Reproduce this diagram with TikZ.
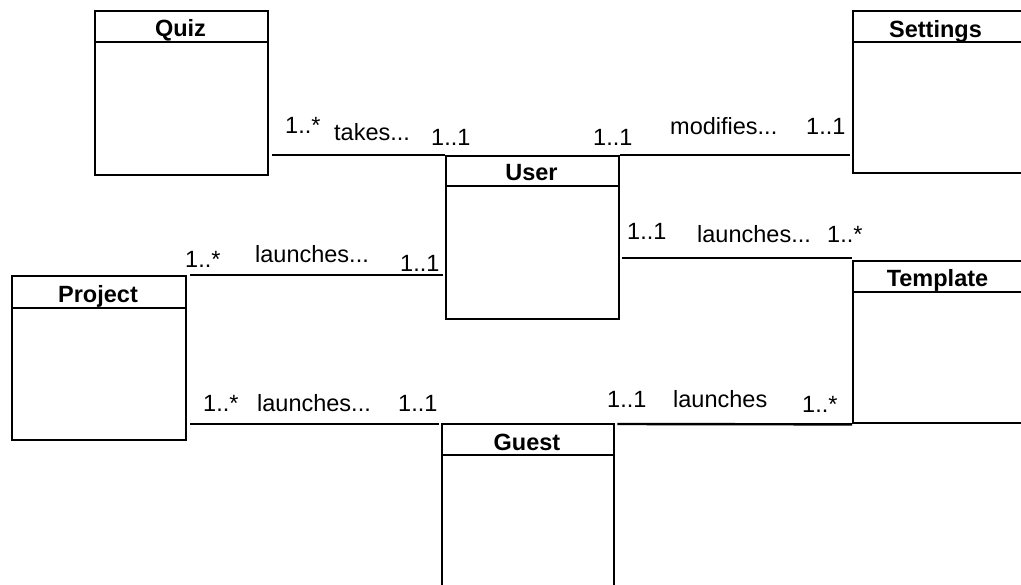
\documentclass[tikz,border=0pt]{standalone}
\usepackage{fontspec}
\setmainfont{Liberation Sans}
\usetikzlibrary{calc}
\begin{document}
\begin{tikzpicture}[x=1pt,y=-1pt,
  cls/.style={draw, line width=2.4pt, rectangle, anchor=north west, inner sep=0pt},
  ctitle/.style={anchor=base, font=\fontsize{23.5}{26}\selectfont\bfseries, inner sep=0pt},
  lab/.style={anchor=base west, font=\fontsize{23.5}{26}\selectfont, inner sep=0pt},
  conn/.style={line width=2.4pt},
  hdr/.style={line width=2.4pt}]
\useasboundingbox (0,0) rectangle (1021,585);
% classes
\node[cls, minimum width=173pt, minimum height=164pt] (quiz) at (94,10) {};
\node[ctitle] (quizT) at (180.5,37) {Quiz};
\draw[hdr] (quiz.west |- 0,42) -- (quiz.east |- 0,42);

\node[cls, minimum width=174pt, minimum height=162pt] (settings) at (852,10) {};
\node[ctitle] (settingsT) at (935.5,37.5) {Settings};
\draw[hdr] (settings.west |- 0,42) -- (settings.east |- 0,42);

\node[cls, minimum width=173pt, minimum height=163pt] (user) at (445,155) {};
\node[ctitle] (userT) at (531.5,181) {User};
\draw[hdr] (user.west |- 0,186) -- (user.east |- 0,186);

\node[cls, minimum width=174pt, minimum height=164pt] (project) at (11,275) {};
\node[ctitle] (projectT) at (98,302.5) {Project};
\draw[hdr] (project.west |- 0,308) -- (project.east |- 0,308);

\node[cls, minimum width=174pt, minimum height=162pt] (template) at (852,260) {};
\node[ctitle] (templateT) at (937.5,287) {Template};
\draw[hdr] (template.west |- 0,292) -- (template.east |- 0,292);

\node[cls, minimum width=172pt, minimum height=170pt] (guest) at (441,423) {};
\node[ctitle] (guestT) at (527,450) {Guest};
\draw[hdr] (guest.west |- 0,455) -- (guest.east |- 0,455);

% connectors
\draw[conn] ([xshift=3pt]quiz.east |- user.north) -- (user.north west);
\draw[conn] (user.north east) -- ([xshift=-2pt]settings.west |- user.north);
\draw[conn] ([xshift=3pt]project.north east) -- ([xshift=-2pt]user.west |- project.north);
\draw[conn] ([xshift=2pt]user.east |- 0,258) -- (template.west |- 0,258);
\draw[conn] ([xshift=3pt]project.east |- 0,424) -- ([xshift=-2pt]guest.west |- 0,424);
\draw[conn] ([xshift=2pt]guest.east |- 0,424) -- (template.south west);

% labels
\node[lab] (l1) at (285,134) {1..*};
\node[lab] (l2) at (334,141) {takes...};
\node[lab] (l3) at (431,146) {1..1};
\node[lab] (l4) at (593,146) {1..1};
\node[lab] (l5) at (670,135) {modifies...};
\node[lab] (l6) at (806,135) {1..1};

\node[lab] (l7) at (185,268) {1..*};
\node[lab] (l8) at (255,263) {launches...};
\node[lab] (l9) at (400,272) {1..1};

\node[lab] (l10) at (627,240) {1..1};
\node[lab] (l11) at (697,243) {launches...};
\node[lab] (l12) at (827,243) {1..*};

\node[lab] (l13) at (203,412) {1..*};
\node[lab] (l14) at (257,412) {launches...};
\node[lab] (l15) at (398,412) {1..1};

\node[lab] (l16) at (607,408) {1..1};
\node[lab] (l17) at (673,408) {launches};
\node[lab] (l18) at (802,413) {1..*};
\end{tikzpicture}
\end{document}
